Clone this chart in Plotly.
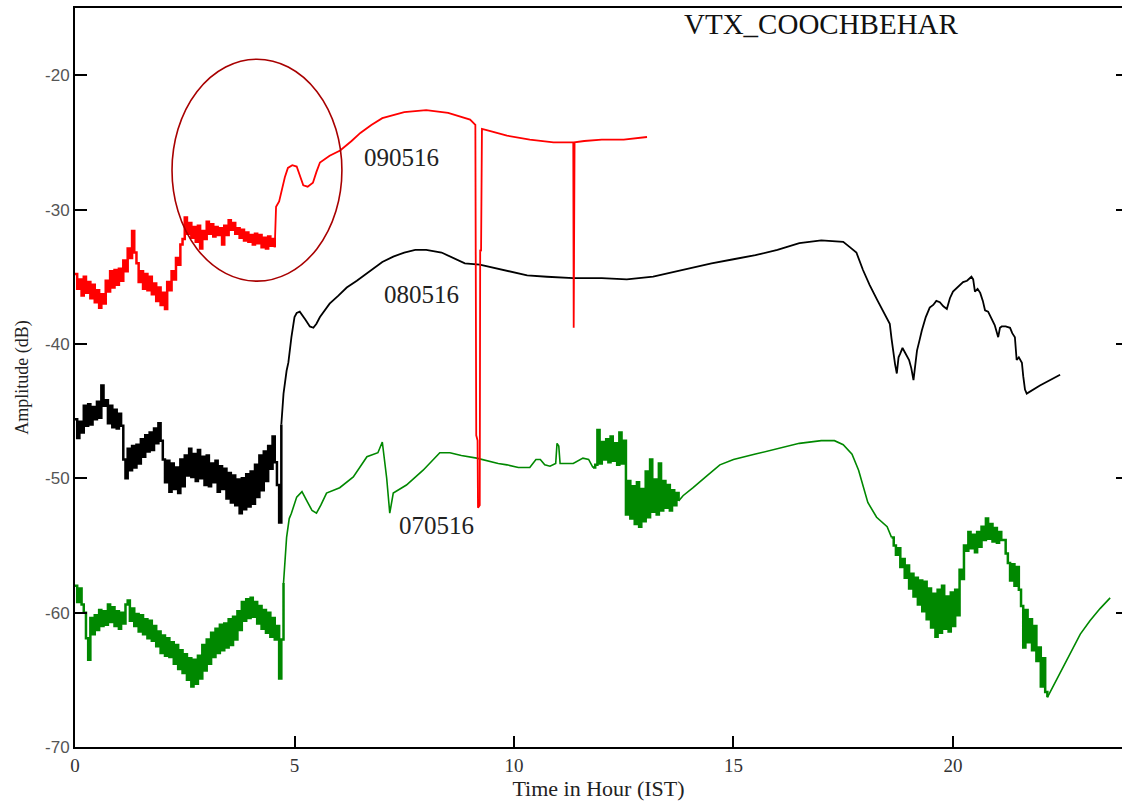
import plotly.graph_objects as go

# ---- sampling grid for the densely logged stretches (hours) ----
STEP = 0.05

# ---- 090516 (red) ----
red_dense_start = 0.0
red_dense = [
    -34.8, -35.9, -35.2, -36.4, -35.0, -36.2, -35.4, -36.6, -35.6, -36.9,
    -36.0, -37.3, -36.3, -37.0, -35.3, -36.1, -34.6, -35.8, -34.5, -35.6,
    -34.4, -35.3, -33.8, -34.6, -32.9, -33.6, -31.6, -33.2, -34.0, -35.4,
    -34.6, -35.9, -34.8, -36.0, -35.0, -36.3, -35.5, -36.8, -35.8, -37.1,
    -36.2, -37.4, -35.4, -36.0, -34.6, -35.2, -33.6, -34.1, -32.6, -32.2,
    -30.6, -31.8, -31.0, -32.1, -31.3, -32.4, -31.2, -32.9, -31.6, -32.2,
    -30.9, -31.8, -31.1, -32.0, -31.3, -31.9, -31.4, -32.6, -31.2, -31.9,
    -30.8, -31.5, -31.0, -31.8, -31.4, -32.1, -31.5, -32.3, -31.7, -32.4,
    -31.9, -32.6, -31.8, -32.5, -31.9, -32.8, -32.1, -32.9, -32.0, -32.7,
    -32.2, -32.8,
]
red_tail_t = [4.58, 4.65, 4.70, 4.78, 4.85, 4.95, 5.05, 5.12, 5.20, 5.30,
              5.42, 5.50, 5.58, 5.80, 6.04, 6.30, 6.50, 6.75, 7.00, 7.50,
              8.00, 8.50, 9.00, 9.12, 9.14, 9.17, 9.18, 9.22, 9.23, 9.25,
              9.27, 9.40, 9.84, 10.36, 10.90, 11.35, 11.36, 11.38, 11.60, 12.00,
              12.50, 13.03]
red_tail_v = [-29.8, -29.4, -28.7, -27.6, -26.9, -26.7, -26.8, -27.5, -28.2, -28.3,
              -28.0, -27.2, -26.5, -26.0, -25.6, -24.9, -24.3, -23.7, -23.2, -22.75,
              -22.6, -22.8, -23.3, -23.7, -46.8, -47.2, -52.2, -52.0, -33.0, -33.1,
              -24.0, -24.1, -24.5, -24.8, -25.0, -25.0, -38.8, -25.0, -24.9, -24.8,
              -24.8, -24.6]

# ---- 080516 (black) ----
black_dense_start = 0.0
black_dense = [
    -45.6, -47.0, -45.8, -46.6, -44.6, -46.1, -44.5, -46.0, -44.7, -45.6,
    -44.3, -45.5, -43.1, -44.6, -44.2, -45.9, -44.6, -46.2, -44.9, -46.3,
    -45.2, -46.1, -48.6, -50.0, -47.8, -49.4, -47.6, -49.2, -47.5, -48.9,
    -47.1, -48.4, -46.8, -48.0, -46.6, -47.9, -46.3, -47.4, -45.9, -47.2,
    -48.6, -50.3, -48.7, -51.0, -48.9, -50.8, -49.2, -51.1, -48.6, -50.6,
    -48.3, -49.8, -47.8, -49.9, -48.2, -50.2, -47.9, -50.0, -48.4, -50.5,
    -48.3, -50.6, -48.9, -50.3, -48.7, -51.0, -49.1, -50.8, -49.3, -51.5,
    -49.6, -51.8, -49.8, -52.0, -50.1, -52.6, -50.0, -52.3, -49.7, -52.1,
    -49.5, -51.9, -49.0, -51.4, -48.3, -50.9, -48.0, -50.2, -47.6, -49.3,
    -46.9, -48.8, -50.5, -53.3, -46.0,
]
black_tail_t = [4.75, 4.82, 4.86, 4.93, 5.00, 5.05, 5.12, 5.25, 5.35, 5.43,
                5.50, 5.58, 5.80, 6.00, 6.19, 6.42, 6.70, 7.00, 7.25, 7.50,
                7.75, 8.00, 8.35, 8.60, 8.88, 9.22, 9.50, 9.84, 10.30, 10.75,
                11.35, 12.00, 12.57, 13.17, 13.55, 14.00, 14.50, 15.00, 15.50, 16.00,
                16.50, 17.00, 17.50, 17.65, 17.80, 17.95, 18.10, 18.27, 18.40, 18.56,
                18.60, 18.64, 18.68, 18.72, 18.76, 18.80, 18.85, 18.90, 18.95, 19.00,
                19.05, 19.10, 19.14, 19.18, 19.24, 19.29, 19.38, 19.47, 19.55, 19.62,
                19.70, 19.78, 19.86, 19.93, 20.00, 20.10, 20.23, 20.32, 20.42, 20.46,
                20.50, 20.56, 20.62, 20.68, 20.73, 20.80, 20.90, 20.95, 21.03, 21.07,
                21.11, 21.20, 21.30, 21.35, 21.41, 21.45, 21.50, 21.57, 21.60, 21.64,
                21.68, 21.98, 22.44]
black_tail_v = [-43.7, -42.0, -41.4, -39.5, -38.0, -37.7, -37.6, -38.2, -38.7, -38.8,
                -38.5, -38.0, -37.0, -36.4, -35.8, -35.3, -34.6, -33.9, -33.5, -33.2,
                -33.0, -33.0, -33.2, -33.6, -34.0, -34.1, -34.3, -34.6, -34.9, -35.0,
                -35.1, -35.1, -35.2, -35.0, -34.7, -34.4, -34.0, -33.7, -33.4, -33.0,
                -32.5, -32.3, -32.4, -32.8, -33.2, -34.5, -35.6, -36.7, -37.5, -38.5,
                -39.6, -40.7, -41.5, -42.2, -41.0, -40.7, -40.3, -40.6, -40.9, -41.2,
                -41.8, -42.7, -41.6, -40.5, -39.7, -39.0, -38.0, -37.3, -37.1, -36.8,
                -36.9, -37.2, -37.4, -36.6, -36.1, -35.8, -35.4, -35.3, -35.0, -35.2,
                -36.1, -35.9, -36.2, -36.8, -37.5, -37.6, -38.2, -38.6, -39.5, -38.8,
                -38.7, -38.7, -38.8, -39.2, -39.5, -41.2, -41.0, -41.4, -42.4, -43.4,
                -43.7, -43.1, -42.3]

# ---- 070516 (green) ----
green_dense_a_start = 0.0
green_dense_a = [
    -58.0, -59.2, -58.2, -59.4, -60.0, -61.9, -63.5, -60.4, -61.6, -60.2,
    -61.3, -59.8, -61.0, -59.9, -60.9, -59.4, -60.7, -59.6, -61.0, -59.9,
    -61.2, -60.0, -60.8, -59.4, -59.1, -60.6, -59.7, -61.0, -60.1, -61.4,
    -60.2, -61.6, -60.5, -61.9, -60.6, -62.1, -61.0, -62.5, -61.4, -63.0,
    -61.7, -63.2, -61.9, -63.3, -62.2, -63.8, -62.4, -64.2, -62.8, -64.5,
    -63.1, -65.0, -63.4, -65.5, -63.5, -65.3, -63.2, -64.9, -62.4, -64.3,
    -62.0, -63.8, -61.5, -63.3, -61.2, -63.0, -60.9, -62.8, -60.8, -62.6,
    -60.5, -62.4, -60.3, -62.0, -59.9, -61.3, -59.2, -60.6, -59.0, -60.4,
    -58.9, -60.3, -59.2, -60.8, -59.5, -61.2, -59.8, -61.5, -60.0, -61.8,
    -60.4, -62.0, -61.0, -64.9, -62.0, -57.8,
]
green_mid_t = [4.82, 4.88, 4.93, 5.05, 5.17, 5.30, 5.40, 5.50, 5.60, 5.73,
               6.03, 6.34, 6.65, 6.90, 7.00, 7.10, 7.17, 7.25, 7.40, 7.55,
               7.93, 8.10, 8.31, 8.54, 8.80, 9.15, 9.40, 9.64, 9.84, 10.10,
               10.36, 10.50, 10.60, 10.70, 10.82, 10.95, 10.98, 11.02, 11.05, 11.35,
               11.57, 11.70, 11.80]
green_mid_v = [-54.4, -53.0, -52.6, -51.4, -51.0, -51.8, -52.4, -52.6, -52.0, -51.1,
               -50.7, -49.9, -48.4, -48.1, -47.3, -50.0, -52.6, -51.1, -50.8, -50.5,
               -49.4, -48.8, -48.1, -48.1, -48.3, -48.5, -48.7, -48.9, -49.0, -49.2,
               -49.2, -48.6, -48.6, -49.0, -49.1, -48.9, -47.4, -47.6, -48.9, -48.9,
               -48.5, -48.6, -49.2]
green_dense_b_start = 11.85
green_dense_b = [
    -49.0, -46.4, -48.9, -47.3, -48.6, -47.1, -48.8, -46.9, -48.7, -47.4,
    -49.0, -46.6, -48.9, -47.2, -52.7, -50.2, -53.0, -50.6, -53.4, -50.3,
    -53.6, -50.8, -53.2, -49.5, -52.9, -48.6, -52.5, -50.1, -52.7, -48.9,
    -52.4, -50.2, -52.2, -50.5, -52.4, -50.9, -52.0, -51.1, -51.7,
]
green_late_t = [13.85, 14.08, 14.25, 14.40, 14.69, 15.00, 15.50, 16.00, 16.50, 17.00,
                17.30, 17.50, 17.70, 17.85, 18.06, 18.26, 18.50, 18.60]
green_late_v = [-51.3, -50.7, -50.2, -49.8, -49.0, -48.6, -48.2, -47.8, -47.4, -47.2,
                -47.2, -47.5, -48.2, -49.4, -51.8, -52.9, -53.6, -54.4]
green_dense_c_start = 18.65
green_dense_c = [
    -55.0, -55.7, -55.2, -56.6, -56.0, -57.4, -56.5, -58.2, -57.1, -58.8,
    -57.4, -59.4, -57.6, -59.9, -57.7, -60.5, -58.2, -61.1, -58.6, -61.8,
    -58.3, -61.5, -58.0, -61.2, -58.8, -61.4, -58.5, -61.0, -58.3, -60.2,
    -56.8, -57.5, -55.0, -55.4, -54.0, -55.2, -54.2, -55.5, -54.0, -55.1,
    -53.6, -54.6, -53.0, -54.5, -53.4, -54.7, -53.7, -54.8, -54.0, -54.6,
    -54.6, -55.6, -56.3, -57.6, -56.4, -58.0, -56.6, -58.3, -59.5, -62.6,
    -59.8, -62.2, -60.5, -62.8, -61.0, -63.6, -62.6, -65.5, -63.4, -65.9,
    -66.3,
]
green_end_t = [22.36, 22.55, 22.73, 22.90, 23.12, 23.35, 23.58]
green_end_v = [-65.0, -63.8, -62.6, -61.6, -60.6, -59.7, -58.9]

# ---- axis ticks / labels ----
x_ticks = [0, 5, 10, 15, 20]
y_ticks = [-70, -60, -50, -40, -30, -20]
X_RANGE = [0, 23.85]
Y_RANGE = [-70, -15]

RED, BLACK, GREEN = "#ff0000", "#000000", "#008800"
DENSE_WIDTH = 2.5


def dense_times(start, values):
    return [round(start + i * STEP, 4) for i in range(len(values))]


def add_series(fig, parts, color, width):
    """parts: list of (times, values, dense_flag). Dense stretches are drawn
    as wide steps so the noisy record reads as a solid band; the rest is a
    plain line. Each piece starts at the previous piece's last sample."""
    prev = None
    for t, v, dense in parts:
        t, v = list(t), list(v)
        if prev is not None:
            t = [prev[0]] + t
            v = [prev[1]] + v
        fig.add_trace(go.Scatter(
            x=t, y=v, mode="lines", showlegend=False, hoverinfo="skip",
            line=dict(color=color,
                      width=DENSE_WIDTH if dense else width,
                      shape="hv" if dense else "linear"),
        ))
        prev = (t[-1], v[-1])


fig = go.Figure()
add_series(fig, [
    (dense_times(green_dense_a_start, green_dense_a), green_dense_a, True),
    (green_mid_t, green_mid_v, False),
    (dense_times(green_dense_b_start, green_dense_b), green_dense_b, True),
    (green_late_t, green_late_v, False),
    (dense_times(green_dense_c_start, green_dense_c), green_dense_c, True),
    (green_end_t, green_end_v, False),
], GREEN, 1.6)
add_series(fig, [
    (dense_times(black_dense_start, black_dense), black_dense, True),
    (black_tail_t, black_tail_v, False),
], BLACK, 1.8)
add_series(fig, [
    (dense_times(red_dense_start, red_dense), red_dense, True),
    (red_tail_t, red_tail_v, False),
], RED, 1.8)

# invisible trace that carries the right-hand tick marks
fig.add_trace(go.Scatter(x=[None], y=[None], yaxis="y2", showlegend=False,
                         hoverinfo="skip"))

# highlight ellipse around the early 090516 rise
ellipse_x = (2.21, 6.08)
ellipse_y = (-35.33, -18.81)
fig.add_shape(type="circle", xref="x", yref="y",
              x0=ellipse_x[0], x1=ellipse_x[1], y0=ellipse_y[0], y1=ellipse_y[1],
              line=dict(color="#a80000", width=1.6))

serif = "Liberation Serif, Times New Roman, serif"
label_font = dict(family=serif, size=25, color="#222222")
fig.add_annotation(x=6.54, y=-26.1, text="090516", showarrow=False,
                   xanchor="left", yanchor="middle", font=label_font)
fig.add_annotation(x=6.99, y=-36.3, text="080516", showarrow=False,
                   xanchor="left", yanchor="middle", font=label_font)
fig.add_annotation(x=7.33, y=-53.5, text="070516", showarrow=False,
                   xanchor="left", yanchor="middle", font=label_font)
fig.add_annotation(x=13.83, y=-16.2, text="VTX_COOCHBEHAR", showarrow=False,
                   xanchor="left", yanchor="middle",
                   font=dict(family=serif, size=29, color="#111111"))

fig.update_layout(
    width=1122, height=804,
    margin=dict(l=75, r=0, t=8, b=57),
    paper_bgcolor="white", plot_bgcolor="white",
    showlegend=False,
    xaxis=dict(
        range=X_RANGE, tickvals=x_ticks, ticktext=[str(v) for v in x_ticks],
        ticks="inside", ticklen=11, tickwidth=1.5, tickcolor="black",
        showline=True, linecolor="black", linewidth=2, mirror=True,
        showgrid=False, zeroline=False,
        tickfont=dict(family=serif, size=19, color="#333333"),
        title=dict(text="Time in Hour (IST)", standoff=4,
                   font=dict(family=serif, size=22, color="#222222")),
    ),
    yaxis=dict(
        range=Y_RANGE, tickvals=y_ticks, ticktext=[str(v) for v in y_ticks],
        ticks="inside", ticklen=12, tickwidth=1.5, tickcolor="black",
        showline=True, linecolor="black", linewidth=2, mirror=False,
        showgrid=False, zeroline=False,
        tickfont=dict(family="Liberation Sans, Arial, sans-serif", size=17,
                      color="#555555"),
        title=dict(text="Amplitude (dB)", standoff=12,
                   font=dict(family=serif, size=18, color="#222222")),
    ),
    yaxis2=dict(
        range=Y_RANGE, tickvals=y_ticks[1:], overlaying="y", side="right",
        anchor="x", ticks="inside", ticklen=6, tickwidth=1.5, tickcolor="black",
        showline=False, showgrid=False, zeroline=False, showticklabels=False,
    ),
)

fig.write_html("out.html")
